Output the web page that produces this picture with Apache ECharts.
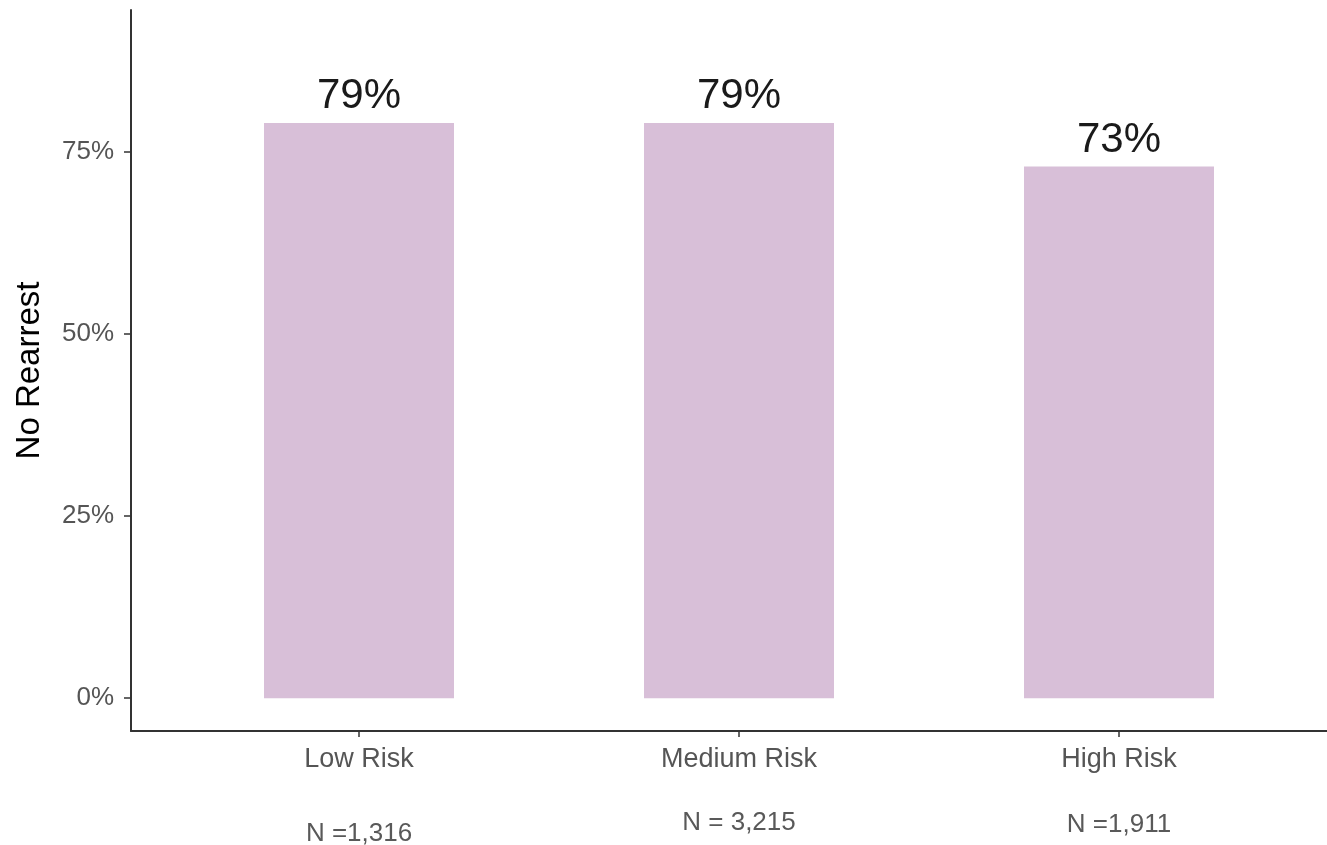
<!DOCTYPE html>
<html>
<head>
<meta charset="utf-8">
<script src="https://cdn.jsdelivr.net/npm/echarts@6/dist/echarts.min.js"></script>
<style>
html,body{margin:0;padding:0;background:#fff;}
#chart{width:1327px;height:845px;}
</style>
</head>
<body>
<div id="chart"></div>
<script>
var categories = ['Low Risk', 'Medium Risk', 'High Risk'];
var values = [79, 79, 73];
var nLabels = ['N =1,316', 'N = 3,215', 'N =1,911'];
var yTicks = [0, 25, 50, 75];
var yTitle = 'No Rearrest';

var FONT = '"Liberation Sans", Arial, Helvetica, sans-serif';
var gapStyles = ['g0', 'g1', 'g2'];

var chart = echarts.init(document.getElementById('chart'), null, {renderer: 'canvas'});
var option = {
  backgroundColor: '#ffffff',
  animation: false,
  grid: {left: 131, right: -20, top: 10, bottom: 114, outerBoundsMode: 'none', containLabel: false},
  xAxis: {
    type: 'value',
    min: 0.4,
    max: 3.6,
    splitLine: {show: false},
    axisLine: {show: true, onZero: false, lineStyle: {color: '#333333', width: 2}},
    axisTick: {show: true, customValues: [1, 2, 3], length: 6, lineStyle: {color: '#333333', width: 1.5}},
    axisLabel: {
      customValues: [1, 2, 3],
      margin: 14,
      formatter: function (v) {
        var i = Math.round(v) - 1;
        return '{c|' + categories[i] + '}\n{' + gapStyles[i] + '| }\n{n|' + nLabels[i] + '}';
      },
      rich: {
        c: {fontFamily: FONT, fontSize: 27, color: '#555555', lineHeight: 30},
        g0: {fontSize: 1, lineHeight: 44, height: 44},
        g1: {fontSize: 1, lineHeight: 33, height: 33},
        g2: {fontSize: 1, lineHeight: 35, height: 35},
        n: {fontFamily: FONT, fontSize: 26, color: '#595959', lineHeight: 30}
      }
    }
  },
  yAxis: {
    type: 'value',
    min: -4.5,
    max: 94.5,
    name: yTitle,
    nameLocation: 'middle',
    nameGap: 85,
    nameRotate: 90,
    nameTextStyle: {fontFamily: FONT, fontSize: 33, color: '#000000'},
    splitLine: {show: false},
    axisLine: {show: true, onZero: false, lineStyle: {color: '#333333', width: 2}},
    axisTick: {show: true, customValues: yTicks, length: 7, lineStyle: {color: '#333333', width: 1.5}},
    axisLabel: {
      customValues: yTicks,
      margin: 17,
      fontFamily: FONT,
      fontSize: 26,
      color: '#555555',
      formatter: function (v) { return v + '%'; }
    }
  },
  series: [{
    type: 'bar',
    barWidth: 190,
    data: values.map(function (v, i) { return [i + 1, v]; }),
    itemStyle: {color: '#D8BFD8'},
    label: {
      show: true,
      position: 'top',
      distance: 5,
      fontFamily: FONT,
      fontSize: 42,
      color: '#1a1a1a',
      formatter: function (p) { return p.value[1] + '%'; }
    }
  }]
};
chart.setOption(option);
</script>
</body>
</html>
